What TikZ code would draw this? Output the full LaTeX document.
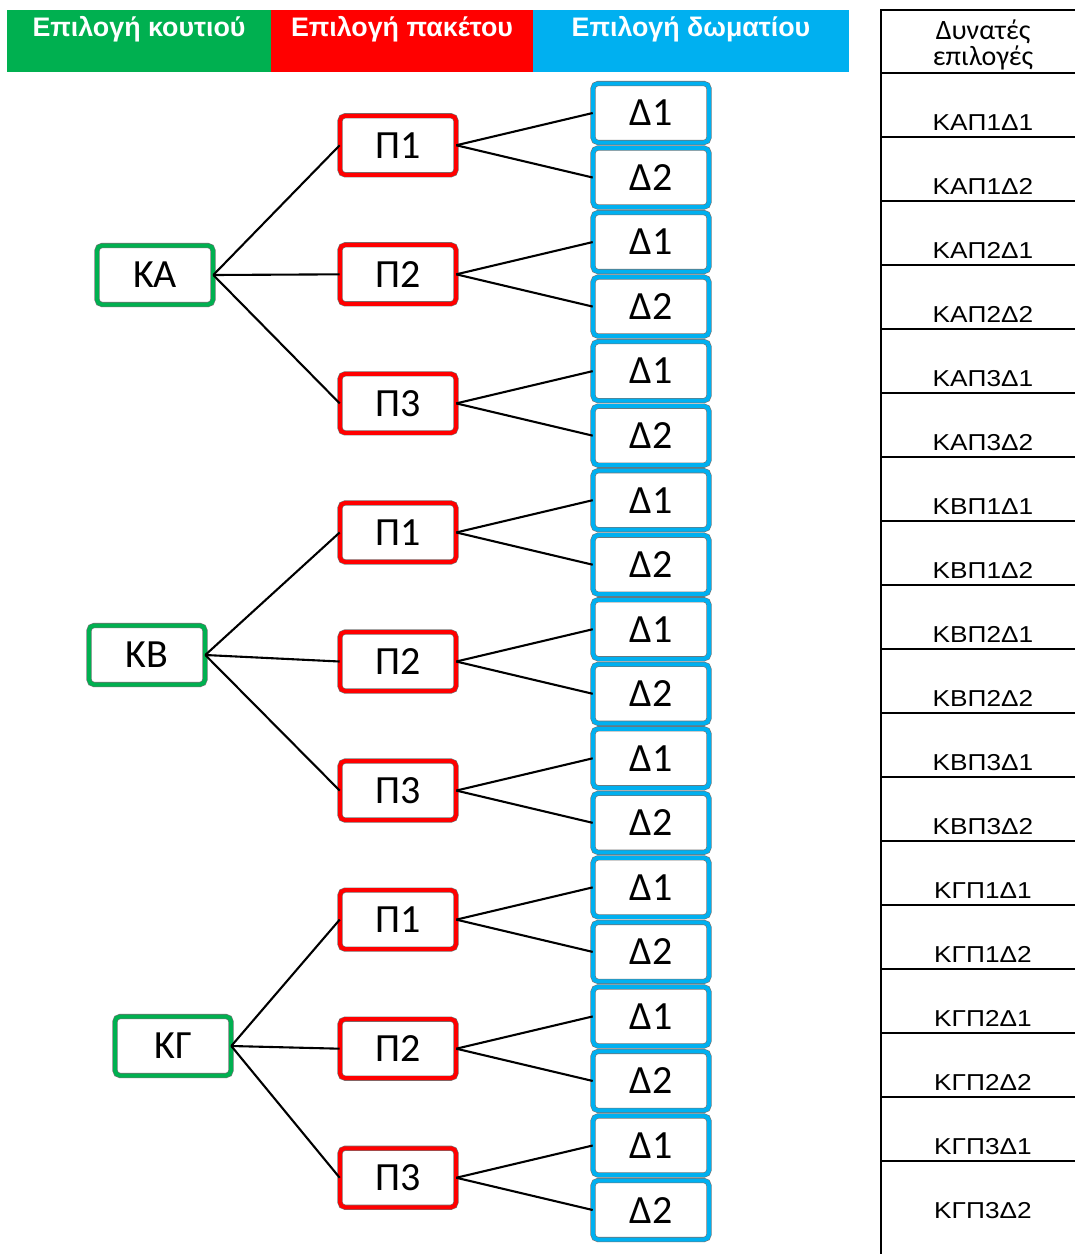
\documentclass[tikz,border=0pt]{standalone}
\usepackage{fontspec}
\setmainfont{Carlito}
\newfontfamily\hdrfont{Liberation Sans}
\newfontfamily\tblfont[FakeStretch=1.14]{Liberation Sans}
\definecolor{hgreen}{HTML}{00B050}
\definecolor{hred}{HTML}{FF0000}
\definecolor{hblue}{HTML}{00B0F0}
\definecolor{bgreen}{HTML}{00B050}
\definecolor{bred}{HTML}{FF0000}
\definecolor{bblue}{HTML}{00B0F0}
\begin{document}
\begin{tikzpicture}[x=1pt,y=-1pt,
  box/.style={rounded corners=5pt, draw=black!55, line width=0.6pt, double distance=4pt,
    fill=white, minimum width=116pt, minimum height=59pt, inner sep=0pt,
    font=\fontsize{40}{40}\selectfont},
  gbox/.style={box, double=bgreen},
  rbox/.style={box, double=bred},
  dbox/.style={box, double=bblue},
  conn/.style={line width=2.1pt, black},
  hdrtext/.style={text=white, anchor=base, font=\hdrfont\bfseries\fontsize{26.8}{27}\selectfont},
  tbltext/.style={anchor=base, font=\tblfont\fontsize{23}{23}\selectfont},
  tblhead/.style={anchor=base, font=\fontsize{28}{28}\selectfont},
  tblline/.style={line width=2pt, black}]
\useasboundingbox (0,0) rectangle (1075,1254);
% header bars
\fill[hgreen] (7,10) rectangle (271,72);
\fill[hred] (271,10) rectangle (533,72);
\fill[hblue] (533,10) rectangle (849,72);
\node[hdrtext] (h1) at (139,36) {Επιλογή κουτιού};
\node[hdrtext] (h2) at (402,36) {Επιλογή πακέτου};
\node[hdrtext] (h3) at (691,36) {Επιλογή δωματίου};
% table
\draw[tblline] (881,1254) -- (881,10) -- (1075,10);
\foreach \k in {0,...,17} {
  \draw[tblline] (881,{73+64*\k}) -- (1075,{73+64*\k});
}
\node[tblhead] (th1) at (983,39) {Δυνατές};
\node[tblhead] (th2) at (983,65) {επιλογές};
\foreach \t [count=\k from 0] in {ΚΑΠ1Δ1,ΚΑΠ1Δ2,ΚΑΠ2Δ1,ΚΑΠ2Δ2,ΚΑΠ3Δ1,ΚΑΠ3Δ2,
  ΚΒΠ1Δ1,ΚΒΠ1Δ2,ΚΒΠ2Δ1,ΚΒΠ2Δ2,ΚΒΠ3Δ1,ΚΒΠ3Δ2,
  ΚΓΠ1Δ1,ΚΓΠ1Δ2,ΚΓΠ2Δ1,ΚΓΠ2Δ2,ΚΓΠ3Δ1,ΚΓΠ3Δ2} {
  \pgfmathsetmacro\yy{\k<17 ? 130+64*\k : 1218}
  \node[tbltext] (r\k) at (983,\yy) {\t};
}
% room nodes
\foreach \i in {0,...,17} {
  \pgfmathtruncatemacro\lab{mod(\i,2)+1}
  \node[dbox] (d\i) at (651,{113+64.53*\i}) {Δ\lab};
}
% package nodes
\foreach \j in {0,...,8} {
  \pgfmathtruncatemacro\lab{mod(\j,3)+1}
  \pgfmathtruncatemacro\da{2*\j}
  \pgfmathtruncatemacro\db{2*\j+1}
  \node[rbox] (p\j) at (398,{113+64.53*(2*\j+0.5)}) {Π\lab};
  \draw[conn] (p\j.east) -- (d\da.west);
  \draw[conn] (p\j.east) -- (d\db.west);
}
% box nodes
\node[gbox] (g0) at (155,275) {ΚΑ};
\node[gbox] (g1) at (147,655) {ΚΒ};
\node[gbox] (g2) at (173,1046) {ΚΓ};
\foreach \g in {0,1,2} {
  \foreach \p in {0,1,2} {
    \pgfmathtruncatemacro\j{3*\g+\p}
    \draw[conn] (g\g.east) -- (p\j.west);
  }
}
\end{tikzpicture}
\end{document}
